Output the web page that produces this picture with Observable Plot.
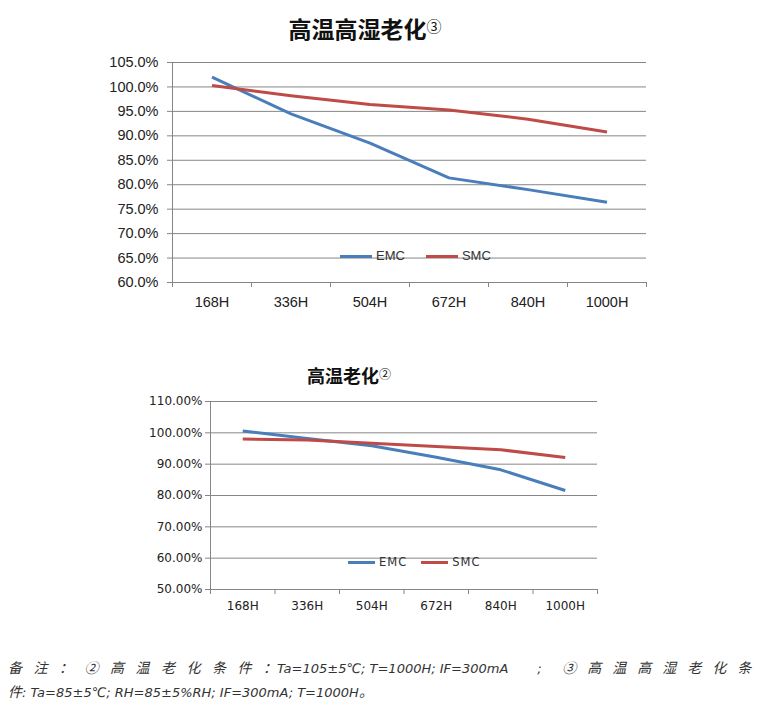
<!DOCTYPE html>
<html><head><meta charset="utf-8">
<script src="https://cdn.jsdelivr.net/npm/d3@7"></script>
<script src="https://cdn.jsdelivr.net/npm/@observablehq/plot@0.6"></script>
<style>
body{margin:0;background:#fff;}
#page{position:relative;width:757px;height:705px;overflow:hidden;background:#fff;}
.abs{position:absolute;}
.title{font-family:"Noto Sans CJK SC",sans-serif;font-weight:bold;color:#111;text-align:center;white-space:nowrap;}
.title .sup{font-weight:normal;vertical-align:top;position:relative;}
.leg{position:absolute;display:flex;align-items:center;white-space:nowrap;color:#333;}
.sw{display:inline-block;height:3px;}
.note{position:absolute;left:8px;font-family:"DejaVu Sans","Noto Sans CJK SC",sans-serif;font-style:italic;font-size:13px;color:#333;white-space:nowrap;}
.cj{font-family:"Noto Sans CJK SC",sans-serif;font-size:14px;letter-spacing:11.5px;}
.cj2{font-family:"Noto Sans CJK SC",sans-serif;font-size:14px;letter-spacing:11px;}
.cj0{font-family:"Noto Sans CJK SC",sans-serif;font-size:14px;}
</style></head><body>
<div id="page">
  <div class="abs title" id="t1" style="left:215px;width:300px;top:11px;font-size:23px;line-height:34px;"></div>
  <div class="abs" id="c1" style="left:0;top:40px;"></div>
  <div class="abs title" id="t2" style="left:249px;width:200px;top:362px;font-size:18px;line-height:26px;"></div>
  <div class="abs" id="c2" style="left:0;top:390px;"></div>
  <div class="leg" id="l1" style="left:340px;top:247px;font-family:'Liberation Sans',Arial,sans-serif;font-size:13px;line-height:18px;"></div>
  <div class="leg" id="l2" style="left:348px;top:553px;font-family:'DejaVu Sans',sans-serif;font-size:11.5px;line-height:18px;letter-spacing:1px;"></div>
  <div class="note" style="top:656px;line-height:22px;"><span class="cj">备注：②高温老化条件</span><span class="cj0">：</span>Ta=105±5℃; T=1000H; IF=300mA&nbsp;&nbsp;&nbsp;&nbsp;&nbsp;&nbsp;&nbsp;;&nbsp;&nbsp;&nbsp;&nbsp;&nbsp;<span class="cj2">③高温高湿老化</span><span class="cj0">条</span></div>
  <div class="note" style="top:680px;line-height:22px;"><span class="cj0">件</span>: Ta=85±5℃; RH=85±5%RH; IF=300mA; T=1000H<span class="cj0">。</span></div>
</div>
<script>
const categories = ["168H", "336H", "504H", "672H", "840H", "1000H"];
const seriesNames = ["EMC", "SMC"];
const seriesColors = ["#4a7ebb", "#be4b48"];

const humidTitle = "高温高湿老化";
const humidMark = "③";
const humidEMC = [102.0, 94.5, 88.5, 81.4, 79.0, 76.4];
const humidSMC = [100.3, 98.2, 96.4, 95.3, 93.4, 90.8];
const humidYTicks = [60, 65, 70, 75, 80, 85, 90, 95, 100, 105];

const heatTitle = "高温老化";
const heatMark = "②";
const heatEMC = [100.6, 98.2, 95.9, 92.2, 88.2, 81.6];
const heatSMC = [98.0, 97.7, 96.7, 95.6, 94.6, 92.1];
const heatYTicks = [50, 60, 70, 80, 90, 100, 110];

const gridColor = "#868686";

function makeChart(o) {
  const rows = [];
  categories.forEach((c, i) => {
    rows.push({i, series: seriesNames[0], v: o.emc[i]});
    rows.push({i, series: seriesNames[1], v: o.smc[i]});
  });
  const bounds = d3.range(categories.length + 1);
  const centers = categories.map((c, i) => i + 0.5);
  return Plot.plot({
    width: o.width, height: o.height,
    marginLeft: o.ml, marginRight: o.mr, marginTop: o.mt, marginBottom: o.mb,
    style: {fontFamily: o.font, fontSize: o.fontSize + "px", color: "#222", background: "transparent", overflow: "visible"},
    x: {type: "linear", domain: [0, categories.length], axis: null, label: null},
    y: {domain: [o.yTicks[0], o.yTicks[o.yTicks.length - 1]], axis: null, label: null},
    color: {domain: seriesNames, range: seriesColors},
    marks: [
      Plot.gridY(o.yTicks, {stroke: gridColor, strokeOpacity: 1}),
      Plot.axisY(o.yTicks, {tickSize: 5, tickPadding: o.yPad, stroke: gridColor, tickFormat: o.fmt, fill: "#222", label: null}),
      Plot.ruleX([0], {stroke: gridColor}),
      Plot.axisX(bounds, {tickSize: 5, tickFormat: () => "", stroke: gridColor, label: null}),
      Plot.axisX(centers, {tickSize: 0, tickPadding: o.xPad, tickFormat: d => categories[Math.round(d - 0.5)], fill: "#222", label: null}),
      Plot.line(rows, {x: d => d.i + 0.5, y: "v", z: "series", stroke: "series", strokeWidth: 3, strokeLinejoin: "round", strokeLinecap: "butt"})
    ]
  });
}

function setTitle(id, text, mark, supSize, supTop) {
  const el = document.getElementById(id);
  el.appendChild(document.createTextNode(text));
  const s = document.createElement("span");
  s.className = "sup";
  s.style.fontSize = supSize + "px";
  s.style.top = supTop + "px";
  s.textContent = mark;
  el.appendChild(s);
}
setTitle("t1", humidTitle, humidMark, 15, -2);
setTitle("t2", heatTitle, heatMark, 12, -1);

document.getElementById("c1").appendChild(makeChart({
  emc: humidEMC, smc: humidSMC, yTicks: humidYTicks,
  width: 660, height: 290, ml: 172, mr: 14, mt: 22, mb: 48,
  font: "'Liberation Sans', Arial, sans-serif", fontSize: 14.5,
  fmt: d => d.toFixed(1) + "%", yPad: 9, xPad: 14
}));

document.getElementById("c2").appendChild(makeChart({
  emc: heatEMC, smc: heatSMC, yTicks: heatYTicks,
  width: 610, height: 230, ml: 210, mr: 13, mt: 11, mb: 31,
  font: "'DejaVu Sans', Verdana, sans-serif", fontSize: 12,
  fmt: d => d.toFixed(2) + "%", yPad: 3, xPad: 12
}));

function legend(id, swW, gap, itemGap) {
  const el = document.getElementById(id);
  seriesNames.forEach((s, i) => {
    const item = document.createElement("span");
    item.style.display = "inline-flex";
    item.style.alignItems = "center";
    item.style.marginRight = i < seriesNames.length - 1 ? itemGap + "px" : "0";
    const sw = document.createElement("span");
    sw.className = "sw";
    sw.style.width = swW + "px";
    sw.style.background = seriesColors[i];
    sw.style.marginRight = gap + "px";
    const tx = document.createElement("span");
    tx.textContent = s;
    item.appendChild(sw); item.appendChild(tx);
    el.appendChild(item);
  });
}
legend("l1", 32, 4, 21);
legend("l2", 27, 4, 14);
</script>
</body></html>
